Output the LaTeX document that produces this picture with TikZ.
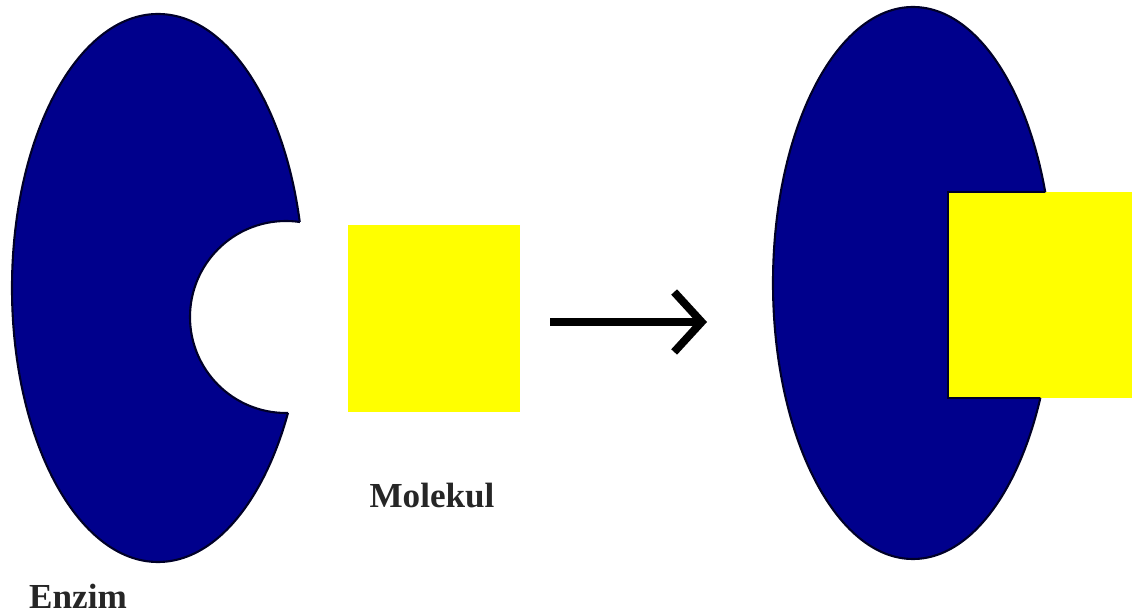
\documentclass[tikz,border=0pt]{standalone}
\usepackage{fontspec}
\setmainfont{Liberation Serif}
\usetikzlibrary{arrows.meta}

\definecolor{enzimbiru}{RGB}{0,0,140}
\definecolor{garis}{RGB}{0,0,40}
\definecolor{kuning}{RGB}{255,255,0}

\tikzset{
  enzim/.style={fill=enzimbiru,draw=garis,line width=1.2pt},
  molekul/.style={fill=kuning},
  label/.style={font=\fontsize{20}{24}\selectfont\bfseries,text=black!85},
  reaksi/.style={line width=4.5pt,-{Straight Barb[length=0.55cm,width=1.2cm]}}
}

\begin{document}
\begin{tikzpicture}[x=0.02cm,y=-0.02cm]
  \useasboundingbox (0,0) rectangle (1132,614);
  % enzim dengan sisi aktif
  \draw[enzim] (158,288) ellipse [x radius=146,y radius=274];
  \begin{scope}
    \clip (158,288) ellipse [x radius=150,y radius=278];
    \fill[white] (286,317) circle [radius=96];
  \end{scope}
  \begin{scope}
    \clip (158,288) ellipse [x radius=146,y radius=274];
    \draw[garis,line width=1.2pt] (286,317) circle [radius=96];
  \end{scope}
  \fill[molekul] (348,225) rectangle (520,412);
  % kompleks enzim-substrat
  \draw[enzim] (913,283) ellipse [x radius=140,y radius=276];
  \fill[molekul] (948,192) rectangle (1132,398);
  \begin{scope}
    \clip (913,283) ellipse [x radius=140,y radius=276];
    \draw[garis,line width=1.6pt] (948,192) rectangle (1132,398);
  \end{scope}
  \node[label] (enzimlbl) at (78,596) {Enzim};
  \node[label] (molekullbl) at (432,496) {Molekul};
  \coordinate (reaksiA) at (550,322);
  \coordinate (reaksiB) at (707,322);
  \draw[reaksi] (reaksiA) -- (reaksiB);
\end{tikzpicture}
\end{document}
